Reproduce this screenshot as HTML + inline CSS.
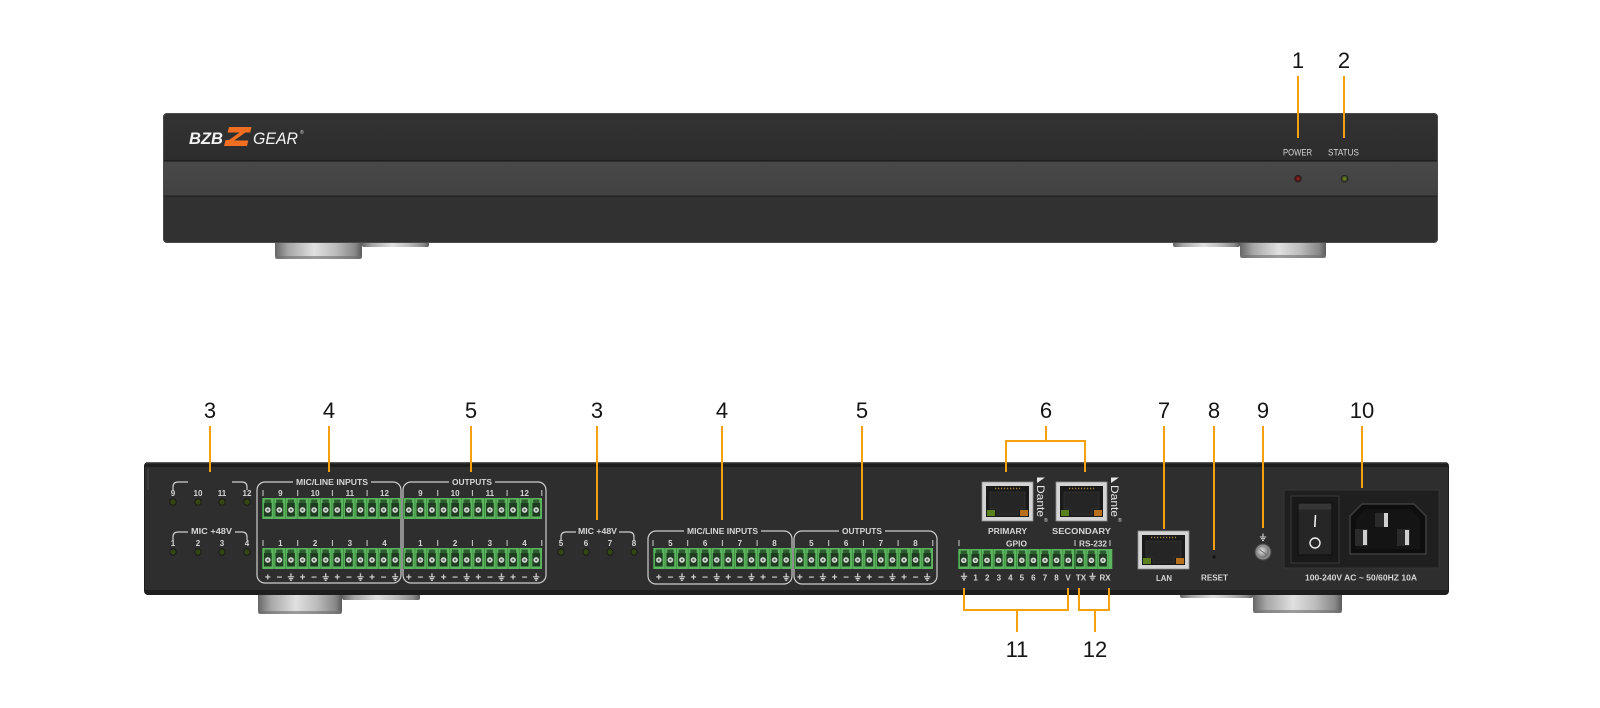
<!DOCTYPE html>
<html><head><meta charset="utf-8"><style>
html,body{margin:0;padding:0;background:#fff;}
svg{display:block;}
text{font-family:"Liberation Sans",Arial,sans-serif;}
.n{font-size:22px;fill:#141414;text-anchor:middle;}
.l{font-size:8px;font-weight:bold;fill:#d6d6d6;text-anchor:middle;}
.pm{font-size:10px;font-weight:bold;fill:#d6d6d6;text-anchor:middle;}
</style></head><body>
<svg xmlns="http://www.w3.org/2000/svg" width="1600" height="708" viewBox="0 0 1600 708">
<defs>
<linearGradient id="foot" x1="0" y1="0" x2="1" y2="0">
<stop offset="0" stop-color="#666"/><stop offset="0.15" stop-color="#a6a6a6"/><stop offset="0.45" stop-color="#e0e0e0"/><stop offset="0.7" stop-color="#bcbcbc"/><stop offset="0.92" stop-color="#888"/><stop offset="1" stop-color="#5a5a5a"/>
</linearGradient>
<linearGradient id="band" x1="0" y1="0" x2="0" y2="1"><stop offset="0" stop-color="#494949"/><stop offset="1" stop-color="#414141"/></linearGradient>
<linearGradient id="top" x1="0" y1="0" x2="0" y2="1"><stop offset="0" stop-color="#333"/><stop offset="1" stop-color="#2c2c2c"/></linearGradient>
<radialGradient id="screw" cx="0.4" cy="0.4" r="0.7"><stop offset="0" stop-color="#e8e8e8"/><stop offset="0.6" stop-color="#9a9a9a"/><stop offset="1" stop-color="#555"/></radialGradient>
<pattern id="pA" patternUnits="userSpaceOnUse" width="11.583" height="21">
<rect width="11.583" height="21" fill="#5cb65f"/>
<rect x="0" width="0.8" height="21" fill="#3b883e"/>
<rect x="2.6" y="1.5" width="6.4" height="3.5" fill="#2d5c2f"/>
<rect x="1.9" y="5" width="7.8" height="13.5" fill="#1e3d20"/>
<circle cx="5.8" cy="12" r="3.1" fill="#d3dad3" stroke="#102010" stroke-width="0.5"/>
<circle cx="5.8" cy="12" r="1.2" fill="#5a685c"/>
</pattern>
<pattern id="pG" patternUnits="userSpaceOnUse" width="11.6" height="20">
<rect width="11.6" height="20" fill="#5cb65f"/>
<rect x="0" width="0.8" height="20" fill="#3b883e"/>
<rect x="2.6" y="1.5" width="6.4" height="3.5" fill="#2d5c2f"/>
<rect x="1.9" y="5" width="7.8" height="12.5" fill="#1e3d20"/>
<circle cx="5.8" cy="11.3" r="3.1" fill="#d3dad3" stroke="#102010" stroke-width="0.5"/>
<circle cx="5.8" cy="11.3" r="1.2" fill="#5a685c"/>
</pattern>
<pattern id="gnd" patternUnits="userSpaceOnUse" width="34.75" height="10">
<path d="M28.96,0.8V4.3 M25.8,4.3H32.1 M26.9,6.1H31 M28,7.9H29.9" stroke="#d6d6d6" stroke-width="1.2" fill="none"/>
</pattern>
</defs>

<!-- front feet -->
<rect x="362" y="236" width="67" height="11" rx="2" fill="url(#foot)"/>
<rect x="275" y="236" width="87" height="23" rx="3" fill="url(#foot)"/>
<rect x="275" y="256" width="87" height="3" rx="1.5" fill="#6e6e6e" opacity="0.6"/>
<rect x="1173" y="236" width="67" height="11" rx="2" fill="url(#foot)"/>
<rect x="1240" y="236" width="86" height="22" rx="3" fill="url(#foot)"/>
<rect x="1240" y="255" width="86" height="3" rx="1.5" fill="#6e6e6e" opacity="0.6"/>

<!-- front panel -->
<rect x="163" y="113" width="1275" height="130" rx="4" fill="#313131"/>
<rect x="164" y="114" width="1273" height="47" rx="3" fill="url(#top)"/>
<rect x="163" y="161" width="1275" height="35" fill="url(#band)"/>
<rect x="163" y="160" width="1275" height="1.6" fill="#1f1f1f"/>
<rect x="163" y="195.5" width="1275" height="1.6" fill="#242424"/>
<rect x="163.5" y="113.5" width="1274" height="129" rx="4" fill="none" stroke="#4a4a4a" stroke-width="1"/>

<!-- logo -->
<text x="189" y="144" font-size="16.5" font-weight="bold" font-style="italic" fill="#f2f2f2" textLength="34" lengthAdjust="spacingAndGlyphs">BZB</text>
<path d="M229,127 H251.5 L247,146 H224 Z" fill="#f26f21"/>
<path d="M224.6,132.5 H239.5 L229,140 H223.4 Z" fill="#303030"/>
<path d="M245.5,132.5 H252 L250.4,140.5 H234.2 Z" fill="#303030"/>
<text x="253" y="144" font-size="16.5" font-style="italic" fill="#f2f2f2" textLength="45" lengthAdjust="spacingAndGlyphs">GEAR</text>
<text x="300" y="134" font-size="5" fill="#ddd">®</text>

<!-- front indicators -->
<text x="1297.5" y="155.7" font-size="8.8" fill="#d8d8d8" text-anchor="middle" textLength="29" lengthAdjust="spacingAndGlyphs">POWER</text>
<text x="1343.5" y="155.7" font-size="8.8" fill="#d8d8d8" text-anchor="middle" textLength="31" lengthAdjust="spacingAndGlyphs">STATUS</text>
<circle cx="1298" cy="178.7" r="3.3" fill="#5e1414" stroke="#222" stroke-width="1"/>
<circle cx="1298" cy="178.7" r="1.4" fill="#8c2424"/>
<circle cx="1344.5" cy="178.7" r="3.3" fill="#46561a" stroke="#222" stroke-width="1"/>
<circle cx="1344.5" cy="178.7" r="1.4" fill="#6a7d2a"/>

<!-- rear feet -->
<rect x="342" y="588" width="78" height="12" rx="2" fill="url(#foot)"/>
<rect x="258" y="588" width="84" height="26" rx="3" fill="url(#foot)"/>
<rect x="258" y="611" width="84" height="3" rx="1.5" fill="#6e6e6e" opacity="0.6"/>
<rect x="1180" y="588" width="73" height="10" rx="2" fill="url(#foot)"/>
<rect x="1253" y="588" width="89" height="25" rx="3" fill="url(#foot)"/>
<rect x="1253" y="610" width="89" height="3" rx="1.5" fill="#6e6e6e" opacity="0.6"/>

<!-- rear panel -->
<rect x="144" y="462" width="1305" height="133" rx="4" fill="#1e1e1e"/>
<rect x="145" y="467" width="1303" height="123" fill="#2e2e2e"/>
<rect x="146" y="462" width="1301" height="1.3" fill="#5c5c5c"/>
<rect x="147" y="468" width="2" height="22" fill="#3c3c3c"/>

<!-- LED groups -->
<g fill="none" stroke="#cfcfcf" stroke-width="1.2">
<path d="M173,490 V487 Q173,482 178,482 H188 M232,482 H242 Q247,482 247,487 V490"/>
<path d="M173,540 V537 Q173,532 178,532 H188 M235,532 H242 Q247,532 247,537 V540"/>
<path d="M561,540 V537 Q561,532 566,532 H576 M619,532 H629 Q634,532 634,537 V540"/>
</g>
<text class="l" x="173" y="496">9</text><text class="l" x="198" y="496">10</text><text class="l" x="222" y="496">11</text><text class="l" x="247" y="496">12</text>
<text class="l" x="173" y="546">1</text><text class="l" x="198" y="546">2</text><text class="l" x="222" y="546">3</text><text class="l" x="247" y="546">4</text>
<text class="l" x="211.5" y="534" textLength="41" lengthAdjust="spacingAndGlyphs">MIC +48V</text>
<text class="l" x="597.5" y="534" textLength="39" lengthAdjust="spacingAndGlyphs">MIC +48V</text>
<text class="l" x="561" y="546">5</text><text class="l" x="586" y="546">6</text><text class="l" x="610" y="546">7</text><text class="l" x="634" y="546">8</text>
<g fill="#364612" stroke="#1a1a1a" stroke-width="1">
<circle cx="173" cy="502" r="3.2"/><circle cx="198" cy="502" r="3.2"/><circle cx="222" cy="502" r="3.2"/><circle cx="247" cy="502" r="3.2"/>
<circle cx="173" cy="552" r="3.2"/><circle cx="198" cy="552" r="3.2"/><circle cx="222" cy="552" r="3.2"/><circle cx="247" cy="552" r="3.2"/>
<circle cx="561" cy="552" r="3.2"/><circle cx="586" cy="552" r="3.2"/><circle cx="610" cy="552" r="3.2"/><circle cx="634" cy="552" r="3.2"/>
</g>

<!-- boxes -->
<g fill="none" stroke="#cfcfcf" stroke-width="1.2">
<path d="M293,482H265A8,8 0 0 0 257,490V575A8,8 0 0 0 265,583H393A8,8 0 0 0 401,575V490A8,8 0 0 0 393,482H371"/>
<path d="M449,482H411A8,8 0 0 0 403,490V575A8,8 0 0 0 411,583H538A8,8 0 0 0 546,575V490A8,8 0 0 0 538,482H495"/>
<path d="M684,531H656A8,8 0 0 0 648,539V576A8,8 0 0 0 656,584H784A8,8 0 0 0 792,576V539A8,8 0 0 0 784,531H761"/>
<path d="M839,531H802A8,8 0 0 0 794,539V576A8,8 0 0 0 802,584H929A8,8 0 0 0 937,576V539A8,8 0 0 0 929,531H885"/>
<path stroke-width="1" d="M263,490V496 M297.7,490V496 M332.4,490V496 M367.1,490V496 M437.7,490V496 M472.4,490V496 M507.1,490V496 M541.8,490V496 M263,540V546 M297.7,540V546 M332.4,540V546 M367.1,540V546 M437.7,540V546 M472.4,540V546 M507.1,540V546 M541.8,540V546 M653,540V546 M687.7,540V546 M722.4,540V546 M757.1,540V546 M828.7,540V546 M863.4,540V546 M898.1,540V546 M932.8,540V546 M959,540V546 M1075,540V546 M1110,540V546"/>
</g>
<text class="l" x="332" y="485" textLength="72" lengthAdjust="spacingAndGlyphs">MIC/LINE INPUTS</text>
<text class="l" x="472" y="485" textLength="40" lengthAdjust="spacingAndGlyphs">OUTPUTS</text>
<text class="l" x="722.5" y="534" textLength="71" lengthAdjust="spacingAndGlyphs">MIC/LINE INPUTS</text>
<text class="l" x="862" y="534" textLength="40" lengthAdjust="spacingAndGlyphs">OUTPUTS</text>

<text class="l" x="280.4" y="496">9</text><text class="l" x="315.1" y="496">10</text><text class="l" x="349.8" y="496">11</text><text class="l" x="384.5" y="496">12</text>
<text class="l" x="420.4" y="496">9</text><text class="l" x="455.1" y="496">10</text><text class="l" x="489.8" y="496">11</text><text class="l" x="524.5" y="496">12</text>
<text class="l" x="280.4" y="546">1</text><text class="l" x="315.1" y="546">2</text><text class="l" x="349.8" y="546">3</text><text class="l" x="384.5" y="546">4</text>
<text class="l" x="420.4" y="546">1</text><text class="l" x="455.1" y="546">2</text><text class="l" x="489.8" y="546">3</text><text class="l" x="524.5" y="546">4</text>
<text class="l" x="670.4" y="546">5</text><text class="l" x="705.1" y="546">6</text><text class="l" x="739.8" y="546">7</text><text class="l" x="774.5" y="546">8</text>
<text class="l" x="811.4" y="546">5</text><text class="l" x="846.1" y="546">6</text><text class="l" x="880.8" y="546">7</text><text class="l" x="915.5" y="546">8</text>

<!-- terminal blocks -->
<rect transform="translate(262,498)" width="139" height="21" fill="url(#pA)"/>
<rect transform="translate(403,498)" width="139" height="21" fill="url(#pA)"/>
<rect transform="translate(262,548)" width="139" height="21" fill="url(#pA)"/>
<rect transform="translate(403,548)" width="139" height="21" fill="url(#pA)"/>
<rect transform="translate(653,548)" width="139" height="21" fill="url(#pA)"/>
<rect transform="translate(794,548)" width="139" height="21" fill="url(#pA)"/>
<rect transform="translate(958,549)" width="150.8" height="20" fill="url(#pG)"/>
<rect x="1108.8" y="549" width="3.5" height="20" fill="#5cb65f"/>
<rect x="1074.5" y="549" width="1" height="20" fill="#2d5c2f"/>

<!-- +/- labels -->
<text class="pm" x="267.8 302.5 337.3 372.0 408.8 443.5 478.3 513.0 658.8 693.5 728.3 763 799.8 834.5 869.3 904" y="580.5">++++++++++++++++</text>
<text class="pm" x="279.4 314.1 348.9 383.6 420.4 455.1 489.9 524.6 670.4 705.1 739.9 774.6 811.4 846.1 880.9 915.6" y="580.5">−−−−−−−−−−−−−−−−</text>
<rect transform="translate(262,572.5)" width="139" height="10" fill="url(#gnd)"/>
<rect transform="translate(403,572.5)" width="139" height="10" fill="url(#gnd)"/>
<rect transform="translate(653,572.5)" width="139" height="10" fill="url(#gnd)"/>
<rect transform="translate(794,572.5)" width="139" height="10" fill="url(#gnd)"/>

<!-- GPIO / RS-232 labels -->
<text class="l" x="1016.5" y="546.5" textLength="21" lengthAdjust="spacingAndGlyphs">GPIO</text>
<text class="l" x="1093" y="546.5" textLength="28" lengthAdjust="spacingAndGlyphs">RS-232</text>
<text class="l" x="975.6 987.2 998.8 1010.3 1021.8 1033.4 1045 1056.5" y="580.5">12345678</text>
<text class="l" x="1068" y="580.5">V</text>
<text class="l" x="1081" y="580.5">TX</text>
<text class="l" x="1105" y="580.5">RX</text>
<path d="M964,572.8V576.3 M960.8,576.3H967.2 M961.9,578.1H966.1 M963,579.9H965 M1092.5,572.8V576.3 M1089.3,576.3H1095.7 M1090.4,578.1H1094.6 M1091.5,579.9H1093.5" stroke="#d6d6d6" stroke-width="1.2" fill="none"/>

<!-- RJ45 jacks -->
<g transform="translate(982,482)">
<rect width="51" height="39" fill="#d4d4d4" stroke="#8e8e8e" stroke-width="0.8"/>
<rect x="4" y="4" width="43" height="31" fill="#1a1a1a"/>
<path d="M8,10 H43 V27 H36 V33 H15 V27 H8 Z" fill="#252525" stroke="#3a3a3a" stroke-width="0.6"/>
<path d="M13,6.5 H38" stroke="#a88540" stroke-width="1.6" stroke-dasharray="1.2 1.8"/>
<rect x="5" y="28" width="8" height="6" fill="#5d801e"/><rect x="38" y="28" width="8" height="6" fill="#b86f1c"/>
</g>
<g transform="translate(1056,482)">
<rect width="51" height="39" fill="#d4d4d4" stroke="#8e8e8e" stroke-width="0.8"/>
<rect x="4" y="4" width="43" height="31" fill="#1a1a1a"/>
<path d="M8,10 H43 V27 H36 V33 H15 V27 H8 Z" fill="#252525" stroke="#3a3a3a" stroke-width="0.6"/>
<path d="M13,6.5 H38" stroke="#a88540" stroke-width="1.6" stroke-dasharray="1.2 1.8"/>
<rect x="5" y="28" width="8" height="6" fill="#5d801e"/><rect x="38" y="28" width="8" height="6" fill="#b86f1c"/>
</g>
<g transform="translate(1138,531)">
<rect width="51" height="38" fill="#d4d4d4" stroke="#8e8e8e" stroke-width="0.8"/>
<rect x="4" y="4" width="43" height="30" fill="#1a1a1a"/>
<path d="M8,10 H43 V26 H36 V32 H15 V26 H8 Z" fill="#252525" stroke="#3a3a3a" stroke-width="0.6"/>
<path d="M13,6.5 H38" stroke="#a88540" stroke-width="1.6" stroke-dasharray="1.2 1.8"/>
<rect x="5" y="27" width="8" height="6" fill="#5d801e"/><rect x="38" y="27" width="8" height="6" fill="#b86f1c"/>
</g>
<!-- Dante -->
<path d="M1037,477.5 L1045,477.5 L1037,483 Z" fill="#e6e6e6"/>
<text transform="translate(1037,485) rotate(90)" font-size="11" fill="#e6e6e6" textLength="32" lengthAdjust="spacingAndGlyphs">Dante</text>
<text x="1044" y="522" font-size="5" fill="#e6e6e6">®</text>
<path d="M1111,477.5 L1119,477.5 L1111,483 Z" fill="#e6e6e6"/>
<text transform="translate(1111,485) rotate(90)" font-size="11" fill="#e6e6e6" textLength="32" lengthAdjust="spacingAndGlyphs">Dante</text>
<text x="1118" y="522" font-size="5" fill="#e6e6e6">®</text>
<text class="l" x="1007.5" y="534" font-size="8.5" textLength="39" lengthAdjust="spacingAndGlyphs">PRIMARY</text>
<text class="l" x="1081.5" y="534" font-size="8.5" textLength="59" lengthAdjust="spacingAndGlyphs">SECONDARY</text>

<text class="l" x="1164" y="581" textLength="16" lengthAdjust="spacingAndGlyphs">LAN</text>
<text class="l" x="1214.5" y="580.5" textLength="27" lengthAdjust="spacingAndGlyphs">RESET</text>
<circle cx="1214" cy="557" r="2.2" fill="#161616" stroke="#3a3a3a" stroke-width="0.6"/>

<!-- ground screw -->
<path d="M1263,533.5V537 M1259.8,537H1266.2 M1260.9,538.7H1265.1 M1262,540.4H1264" stroke="#d6d6d6" stroke-width="1.1" fill="none"/>
<circle cx="1263" cy="552" r="8" fill="#8a8a8a" stroke="#4a4a4a" stroke-width="1"/>
<circle cx="1263" cy="552" r="5.5" fill="url(#screw)"/>
<path d="M1259.5,549.5 L1266.5,554.5" stroke="#666" stroke-width="1"/>

<!-- power module -->
<rect x="1284" y="490" width="155" height="78" fill="#1f1f1f" stroke="#363636" stroke-width="1"/>
<rect x="1291" y="496" width="48" height="67" fill="#191919" stroke="#3a3a3a" stroke-width="1"/>
<rect x="1298" y="503" width="34" height="52" fill="#262626" stroke="#0e0e0e" stroke-width="1"/>
<rect x="1298.5" y="503.5" width="33" height="6" fill="#363636"/>
<path d="M1315.5,515 L1314.8,527" stroke="#eee" stroke-width="1.6"/>
<circle cx="1315" cy="543" r="5" fill="none" stroke="#eee" stroke-width="1.4"/>
<path d="M1362,504 H1414 L1426,516 V554 H1350 V516 Z" fill="#0e0e0e" stroke="#3e3e3e" stroke-width="1.5"/>
<path d="M1366,509 H1410 L1420,519 V549 H1356 V519 Z" fill="#141414"/>
<rect x="1375" y="513" width="13" height="14" fill="#2a2a2a"/><rect x="1384" y="513" width="4" height="14" fill="#cfcfcf"/>
<rect x="1355" y="529" width="13" height="17" fill="#2a2a2a"/><rect x="1363" y="530" width="4" height="15" fill="#cfcfcf"/>
<rect x="1397" y="529" width="13" height="17" fill="#2a2a2a"/><rect x="1405" y="530" width="4" height="15" fill="#cfcfcf"/>
<text class="l" x="1361" y="580.5" textLength="112" lengthAdjust="spacingAndGlyphs">100-240V AC ~ 50/60HZ 10A</text>

<!-- callout lines -->
<path d="M1298,76V138 M1344,76V138 M210,426V472 M329,426V472 M471,426V472 M597,426V520 M722,426V520 M862,426V520 M1046,426V441 M1006,472V441H1085V472 M1164,426V529 M1214,426V550 M1263,426V528 M1362,426V488 M964,588V610H1068V588 M1017,610V632 M1079,588V610H1109V588 M1095,610V632" stroke="#f4a00f" stroke-width="2" fill="none"/>

<!-- callout numbers -->
<text class="n" x="1298" y="68">1</text>
<text class="n" x="1344" y="68">2</text>
<text class="n" x="210" y="418">3</text>
<text class="n" x="329" y="418">4</text>
<text class="n" x="471" y="418">5</text>
<text class="n" x="597" y="418">3</text>
<text class="n" x="722" y="418">4</text>
<text class="n" x="862" y="418">5</text>
<text class="n" x="1046" y="418">6</text>
<text class="n" x="1164" y="418">7</text>
<text class="n" x="1214" y="418">8</text>
<text class="n" x="1263" y="418">9</text>
<text class="n" x="1362" y="418">10</text>
<text class="n" x="1017" y="657">11</text>
<text class="n" x="1095" y="657">12</text>
</svg>
</body></html>
